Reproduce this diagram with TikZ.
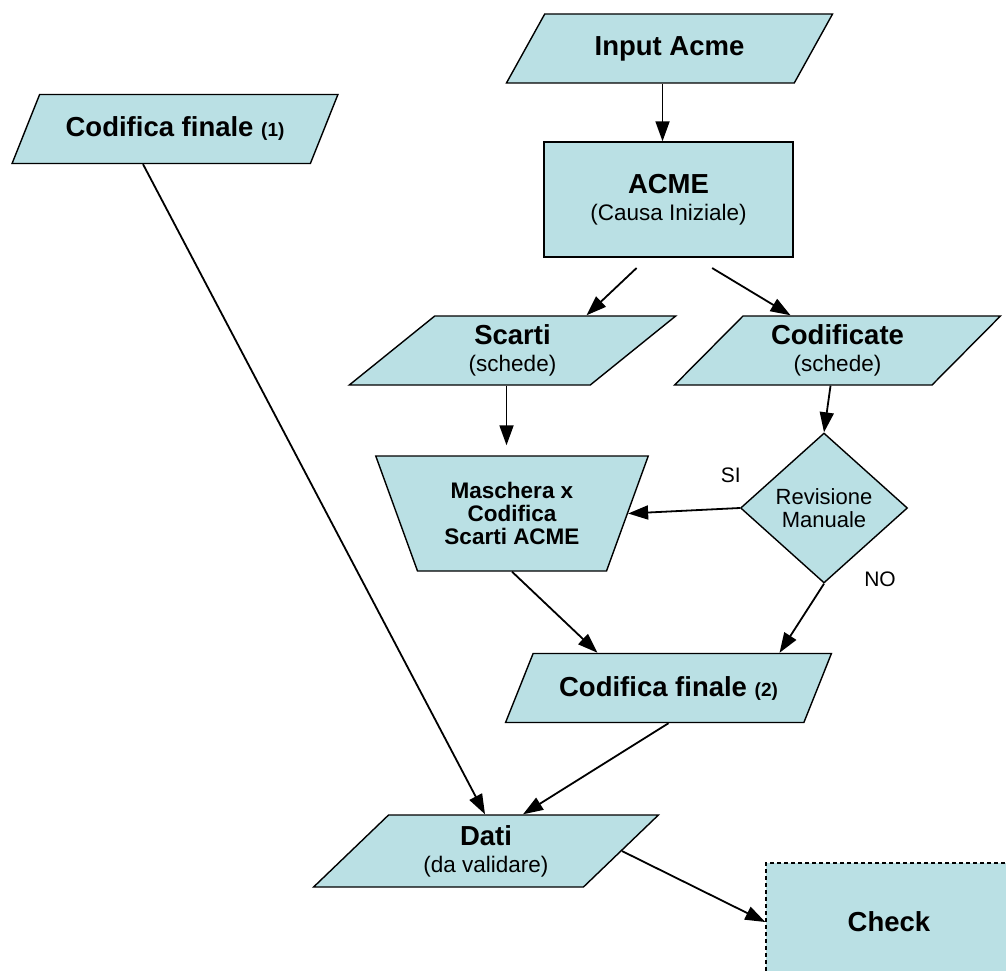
\documentclass[tikz,border=0pt]{standalone}
\usepackage{fontspec}
\setmainfont{Liberation Sans}
\usetikzlibrary{arrows.meta, positioning, shapes.geometric, calc}
\definecolor{boxcyan}{RGB}{186,224,228}
\newcommand{\bigf}{\fontsize{27.5}{30}\selectfont\bfseries}
\newcommand{\subf}{\fontsize{22.5}{26}\selectfont\mdseries}
\newcommand{\numf}{\fontsize{19}{22}\selectfont\bfseries}

\begin{document}
\begin{tikzpicture}[x=1pt, y=-1pt,
    IO/.style={trapezium, trapezium left angle=47, trapezium right angle=133, trapezium stretches=true,
      draw, line width=1.4pt, fill=boxcyan, minimum height=69pt, minimum width=327pt, inner sep=0pt,
      align=center, font=\bigf},
    P/.style={rectangle, draw, line width=1.4pt, fill=boxcyan, align=center, font=\bigf, inner sep=0pt},
    T/.style={trapezium, shape border rotate=180, trapezium angle=64.5, trapezium stretches=true,
      draw, line width=1.4pt, fill=boxcyan, minimum height=115pt, minimum width=273pt, inner sep=0pt,
      align=center, font=\fontsize{22.5}{23}\selectfont\bfseries},
    D/.style={diamond, draw, line width=1.4pt, fill=boxcyan, minimum width=167pt, minimum height=150pt,
      inner sep=0pt, align=center, font=\fontsize{22}{23}\selectfont},
    arr/.style={-{Triangle[length=20pt, width=14pt]}, line width=1.8pt},
    lbl/.style={font=\fontsize{21}{24}\selectfont}
  ]
  \clip (0,0) rectangle (1006,971);
  % boxes
  \node[IO] (inA) at (669.5,48.5) {Input Acme};
  \node[IO] (cf1) at (175,129) {Codifica finale {\numf(1)}};
  \node[P, minimum width=249pt, minimum height=115pt] (acme) at (668.5,199.5) {ACME\\[-3pt]{\subf (Causa Iniziale)}};
  \node[IO] (scarti) at (512.5,350.5) {Scarti\\[-3pt]{\subf (schede)}};
  \node[IO] (codif) at (837.5,350.5) {Codificate\\[-3pt]{\subf (schede)}};
  \node[T] (masch) at (512,513.5) {Maschera x\\Codifica\\Scarti ACME};
  \node[D] (rev) at (824,508) {Revisione\\Manuale};
  \node[IO] (cf2) at (668.5,688) {Codifica finale {\numf(2)}};
  \node[IO, minimum height=72pt, minimum width=345pt] (dati) at (486,851) {Dati\\[-3pt]{\subf (da validare)}};
  \node[P, dash pattern=on 4pt off 3pt, minimum width=246pt, minimum height=118pt] (check) at (889,922) {Check};
  % labels of the decision
  \node[lbl] (si) at ($(rev.west)+(-9,-33)$) {SI};
  \node[lbl] (no) at ($(rev.south)+(56,-4)$) {NO};
  % connectors
  \draw[arr] (inA.south) ++(-7,0) coordinate (a1) -- (a1 |- acme.north);
  \draw[arr, shorten <=15pt] ($(acme.south)+(-21,0)$) -- ($(scarti.north)+(74,0)$);
  \draw[arr, shorten <=20pt] ($(acme.south)+(26.5,0)$) -- ($(codif.north)+(-47,0)$);
  \draw[arr, shorten >=10pt] (scarti.south) ++(-6,0) coordinate (s1) -- (s1 |- masch.north);
  \draw[arr] ($(codif.south)+(-7,0)$) -- (rev.north);
  \draw[arr] (rev.west) -- (masch.east);
  \draw[arr] (masch.south) -- ($(cf2.north)+(-71,0)$);
  \draw[arr] (rev.south) -- ($(cf2.north)+(111,0)$);
  \draw[arr] (cf2.south) -- ($(dati.north)+(37,0)$);
  \draw[arr] ($(cf1.south)+(-32,0)$) -- ($(dati.north)+(-1,0)$);
  \draw[arr] (dati.east) -- (check.west);
\end{tikzpicture}
\end{document}
